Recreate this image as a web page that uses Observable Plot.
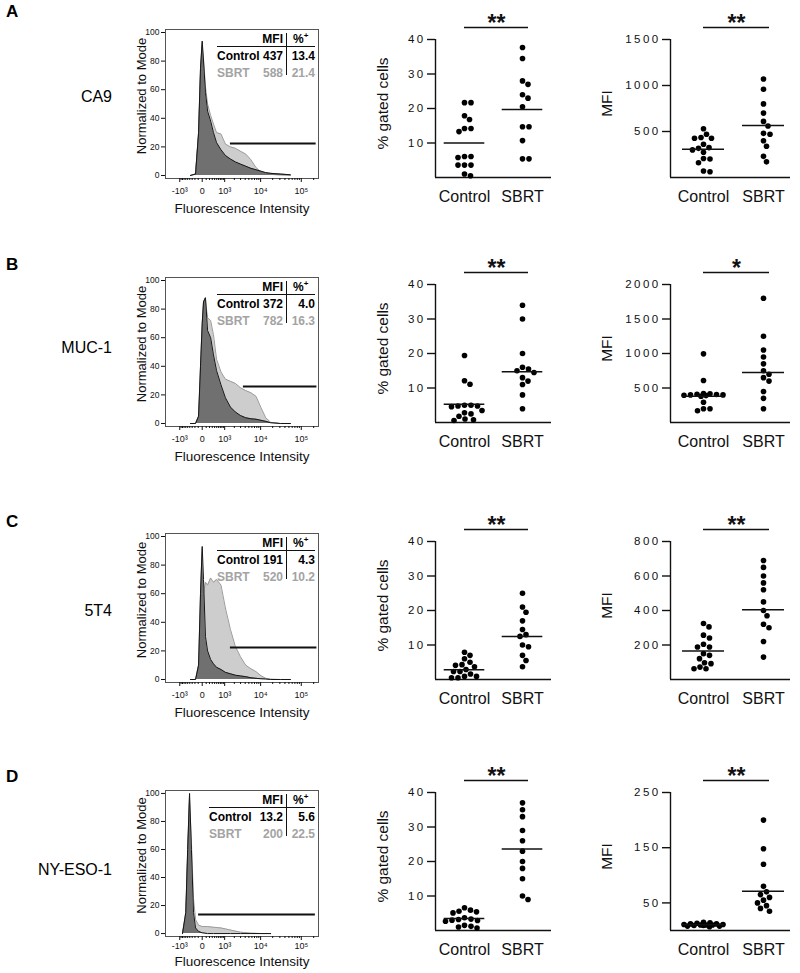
<!DOCTYPE html>
<html><head><meta charset="utf-8">
<script src="https://cdn.jsdelivr.net/npm/d3@7"></script>
<script src="https://cdn.jsdelivr.net/npm/@observablehq/plot@0.6"></script>
<style>
body{margin:0;background:#fff;font-family:"Liberation Sans",Arial,sans-serif;}
#fig{position:relative;width:800px;height:973px;overflow:hidden;background:#fff}
.letter{position:absolute;left:6px;font-weight:bold;font-size:17px;line-height:17px}
.name{position:absolute;left:0;width:112px;text-align:right;font-size:16px;line-height:16px}
.tt{position:absolute;font-weight:bold;font-size:12px;line-height:12px;white-space:nowrap}
.gray{color:#a3a3a3}
.hl{position:absolute;height:1.6px;background:#111}
.vl{position:absolute;width:1.8px;background:#111}
.dp g[aria-label="y-axis tick label"] text{letter-spacing:2.4px}
svg{position:absolute;overflow:visible}
</style></head><body><div id="fig"></div>
<script>
// ---------- data ----------
const rowLetters = ["A", "B", "C", "D"];
const markers = ["CA9", "MUC-1", "5T4", "NY-ESO-1"];
const groups = ["Control", "SBRT"];

// flow histograms (fluorescence intensity vs % of mode)
const histTickValues = [-1000, 0, 1000, 10000, 100000];
const histTickLabels = ["-10³", "0", "10³", "10⁴", "10⁵"];
const histMinorTicks = [-900, -800, -700, -600, -500, -400, -300, -200, -100, 100, 200, 300, 400, 500, 600, 700, 800, 900,
  2000, 3000, 4000, 5000, 6000, 7000, 8000, 9000, 20000, 30000, 40000, 50000, 60000, 70000, 80000, 90000, 200000];
const histYTicks = [0, 20, 40, 60, 80, 100];
const histX = [-370, -180, -90, -40, 0, 30, 80, 140, 240, 350, 490, 740, 1060, 1530, 2150, 2970, 4130, 5650, 7650, 10240, 13450, 17800, 30800, 54500];
const histXD = [-800, -600, -500, -410, -330, -250, -180, -90, 0, 140, 350, 740, 1530, 2970, 5650, 10240, 17800];

const histControlA = [0, 1, 30, 75, 94, 80, 58, 45, 38, 30, 23, 18, 14, 11.5, 9.5, 8, 6.5, 5, 4, 3, 2, 1.5, 1, 0.5];
const histSbrtA    = [0, 1, 28, 70, 90, 82, 62, 50, 42, 36, 30, 29, 22, 20, 19, 17, 15, 11, 5.5, 2.6, 1.4, 0.8, 0.3, 0];
const histControlB = [0, 0, 5, 40, 70, 85, 88, 65, 60, 48, 37, 27, 18, 11.5, 8, 5.6, 4, 3.3, 3, 2.2, 1.5, 0.5, 0, 0];
const histSbrtB    = [0, 0, 4, 30, 60, 78, 86, 74, 72, 62, 45, 36, 31, 29.5, 28, 25, 23, 21.5, 19, 11, 4, 0.8, 0, 0];
const histControlC = [0, 0, 10, 60, 93, 70, 30, 20, 14, 11, 8.5, 7, 5, 4, 3, 2.5, 2, 1.2, 0.8, 0.5, 0.3, 0, 0, 0];
const histSbrtC    = [0, 0, 3, 20, 45, 60, 68, 66, 71, 68, 70, 66, 50, 35, 23, 16, 10, 7.5, 5.5, 2.6, 0.8, 0.2, 0, 0];
const histControlD = [0, 15, 60, 100, 60, 15, 4, 1.5, 0.5, 0, 0, 0, 0, 0, 0, 0, 0];
const histSbrtD    = [0, 12, 55, 95, 65, 25, 10, 6, 5, 5, 4.5, 4, 2.5, 1, 0.3, 0, 0];

const gateLevel = [22.4, 25.9, 22.4, 13.6];
const gateFrom = [1530, 3580, 1530, -90];
const gateTo = [230000, 240000, 240000, 220000];

const tableMfiControl = ["437", "372", "191", "13.2"];
const tableMfiSbrt = ["588", "782", "520", "200"];
const tablePctControl = ["13.4", "4.0", "4.3", "5.6"];
const tablePctSbrt = ["21.4", "16.3", "10.2", "22.5"];

// dot plots: % gated cells
const pctYMax = [40, 40, 40, 40];
const pctYTicks = [10, 20, 30, 40];
const pctCtrlA = [21.7, 21.7, 17.9, 16.8, 14.2, 14.2, 13.3, 6.1, 6.1, 5.8, 3.6, 3.6, 3.6, 1.0, 0.5];
const pctSbrtA = [37.7, 34.5, 28, 27, 24, 23, 20.5, 14.7, 14.7, 10.7, 5.4, 5.4];
const pctCtrlB = [19.4, 12.1, 11.1, 5, 5, 4.8, 4.8, 4.6, 3.5, 2.8, 2.5, 1.8, 1.0, 0.6, 0.8];
const pctSbrtB = [34, 30, 20, 16, 15.5, 15, 14.5, 13, 12, 11, 8, 4];
const pctCtrlC = [7.9, 7.0, 6.0, 5.0, 4.3, 4.1, 3.7, 2.9, 2.3, 2.3, 1.6, 0.9, 0.9, 0.5, 0.5];
const pctSbrtC = [25, 21, 19.5, 17, 14.5, 13, 12.5, 10, 9.5, 7, 5.5, 3.7];
const pctCtrlD = [6.6, 5.9, 5.6, 5.4, 5.1, 3.7, 3.3, 3.2, 3.0, 2.9, 2.7, 1.5, 1.2, 1.0, 0.7];
const pctSbrtD = [37, 35, 33, 29, 26, 23, 20, 18, 15, 10, 9];
const pctMeans = [[10.0, 19.7], [5.3, 14.7], [2.8, 12.5], [3.5, 23.6]];
const pctSig = ["**", "**", "**", "**"];

// dot plots: MFI
const mfiYMax = [1500, 2000, 800, 250];
const mfiYTicks = [[500, 1000, 1500], [500, 1000, 1500, 2000], [200, 400, 600, 800], [50, 150, 250]];
const mfiCtrlA = [530, 470, 434, 427, 427, 361, 325, 317, 300, 274, 206, 201, 161, 70, 62];
const mfiSbrtA = [1070, 960, 800, 700, 610, 560, 480, 470, 400, 340, 230, 170];
const mfiCtrlB = [995, 609, 420, 415, 410, 405, 400, 400, 395, 390, 380, 294, 200, 170, 200];
const mfiSbrtB = [1800, 1250, 1050, 950, 850, 750, 700, 650, 600, 450, 350, 200];
const mfiCtrlC = [325, 305, 257, 241, 204, 188, 188, 150, 140, 121, 97, 92, 72, 62, 62];
const mfiSbrtC = [690, 650, 600, 560, 520, 450, 400, 370, 320, 300, 220, 130];
const mfiCtrlD = [15, 14, 13, 12, 12, 11, 11, 10, 10, 10, 9, 9, 8, 8, 7];
const mfiSbrtD = [200, 148, 120, 80, 70, 65, 60, 55, 50, 45, 40, 35];
const mfiMeans = [[306, 565], [380, 725], [165, 405], [10.6, 71]];
const mfiSig = ["**", "*", "**", "**"];

// ---------- layout ----------
const FONT = '"Liberation Sans", Arial, sans-serif';
const letterTop = [3, 256, 513, 768];
const nameMid = [97, 348, 611, 870];
const histFrameTop = [29, 277, 533, 790];
const histFrameH = [149, 149, 149, 146];
const histTitleDy = [30, 30, 30, 25];
const histTickPad = [5, 5, 5, 2];
const dotFrameTop = [39, 284, 541, 792];
const tableLeft = [217, 217, 217, 209];

const fig = document.getElementById("fig");
function place(el, left, top) { el.style.left = left + "px"; el.style.top = top + "px"; fig.appendChild(el); return el; }
function placeRight(el, right, top) { el.style.right = (800 - right) + "px"; el.style.top = top + "px"; fig.appendChild(el); return el; }
function div(cls, html) { const d = document.createElement("div"); d.className = cls; d.innerHTML = html; return d; }

const histCtrl = [histControlA, histControlB, histControlC, histControlD];
const histSbrt = [histSbrtA, histSbrtB, histSbrtC, histSbrtD];
const pctCtrlAll = [pctCtrlA, pctCtrlB, pctCtrlC, pctCtrlD];
const pctSbrtAll = [pctSbrtA, pctSbrtB, pctSbrtC, pctSbrtD];
const mfiCtrlAll = [mfiCtrlA, mfiCtrlB, mfiCtrlC, mfiCtrlD];
const mfiSbrtAll = [mfiSbrtA, mfiSbrtB, mfiSbrtC, mfiSbrtD];

function histogram(r) {
  const xs = r === 3 ? histXD : histX;
  const ctrl = xs.map((x, i) => ({x, y: histCtrl[r][i]}));
  const sbrt = xs.map((x, i) => ({x, y: histSbrt[r][i]}));
  return Plot.plot({
    width: 200, height: 10 + histFrameH[r] + 38, marginLeft: 45, marginRight: 2, marginTop: 10, marginBottom: 38,
    style: {fontFamily: FONT, color: "#111", background: "transparent", overflow: "visible"},
    x: {type: "symlog", constant: 400, domain: [-2700, 262144]},
    y: {domain: [-2.1, 102.1]},
    marks: [
      Plot.areaY(sbrt, {x: "x", y: "y", fill: "#cdcdcd"}),
      Plot.lineY(sbrt, {x: "x", y: "y", stroke: "#9b9b9b", strokeWidth: 1}),
      Plot.areaY(ctrl, {x: "x", y: "y", fill: "#707070"}),
      Plot.lineY(ctrl, {x: "x", y: "y", stroke: "#151515", strokeWidth: 1}),
      Plot.ruleY([gateLevel[r]], {x1: gateFrom[r], x2: gateTo[r], stroke: "#111", strokeWidth: 2}),
      Plot.frame({stroke: "#555", strokeWidth: 1}),
      Plot.axisY(histYTicks, {tickSize: 4, tickPadding: 2, fontSize: 8.5, label: null}),
      Plot.axisX(histTickValues, {tickSize: 4, tickPadding: histTickPad[r], fontSize: 9, label: null,
        tickFormat: d => histTickLabels[histTickValues.indexOf(d)]}),
      Plot.axisX(histMinorTicks, {tickSize: 2, text: null, label: null}),
      Plot.text(["Normalized to Mode"], {frameAnchor: "left", textAnchor: "middle", dx: -24, dy: -8, rotate: -90, fontSize: 13}),
      Plot.text(["Fluorescence Intensity"], {frameAnchor: "bottom", textAnchor: "middle", dy: histTitleDy[r], lineAnchor: "middle", fontSize: 13.5})
    ]
  });
}

// beeswarm layout (pixel space), overlapping only when crowded
function swarm(vals, yMax, h, r, ppu, maxW) {
  const pts = [];
  const idx = d3.range(vals.length).sort((a, b) => vals[b] - vals[a]);
  const out = new Array(vals.length);
  const minD = 2 * r + 0.6;
  for (const i of idx) {
    const py = h * (1 - vals[i] / yMax);
    let chosen = null, bestD = -1, bestX = 0;
    for (let k = 0; k < 1000; k++) {
      const cx = (k % 2 ? 1 : -1) * Math.ceil(k / 2) * 0.5;
      if (Math.abs(cx) > maxW) break;
      const md = pts.length ? d3.min(pts, p => Math.hypot(p[0] - cx, p[1] - py)) : Infinity;
      if (md >= minD) { chosen = cx; break; }
      if (md > bestD + 0.4) { bestD = md; bestX = cx; }
    }
    if (chosen === null) chosen = bestX;
    pts.push([chosen, py]);
    out[i] = chosen / ppu;
  }
  return out;
}

function dotPlot(ctrlVals, sbrtVals, means, yMax, yTicks, yLabel, sig, cfg) {
  const H = 138, R = 2.8;
  const plotW = (cfg.x1 - cfg.x0) * cfg.ppu;
  const data = [];
  [ctrlVals, sbrtVals].forEach((vals, g) => {
    const offs = swarm(vals, yMax, H, R, cfg.ppu, 22);
    vals.forEach((v, i) => data.push({g, v, x: g + offs[i]}));
  });
  return Plot.plot({
    className: "dp",
    width: cfg.ml + plotW + 8, height: 39 + H + 32,
    marginLeft: cfg.ml, marginRight: 8, marginTop: 39, marginBottom: 32,
    style: {fontFamily: FONT, color: "#111", background: "transparent", overflow: "visible"},
    x: {domain: [cfg.x0, cfg.x1]},
    y: {domain: [0, yMax]},
    marks: [
      Plot.ruleX([cfg.x0], {y1: 0, y2: yMax, stroke: "#111", strokeWidth: 1.4}),
      Plot.ruleY([0], {stroke: "#111", strokeWidth: 1.4}),
      Plot.axisY(yTicks, {tickSize: 8, tickPadding: 2, fontSize: 11.5, label: null, tickFormat: d => String(d), strokeWidth: 1.4}),
      Plot.axisX([0, 1], {tickSize: 0, tickPadding: 13, fontSize: 16, label: null, tickFormat: d => groups[d]}),
      Plot.text([yLabel], {frameAnchor: "left", textAnchor: "middle", dx: cfg.labelDx, dy: -5, rotate: -90, fontSize: 15.5}),
      Plot.dot(data, {x: "x", y: "v", r: R, fill: "#000"}),
      Plot.ruleY(means, {y: d => d, x1: (d, i) => i - 0.35, x2: (d, i) => i + 0.35, stroke: "#111", strokeWidth: 1.5}),
      Plot.ruleY([yMax], {x1: 0, x2: 1, insetRight: -6, dy: -12, stroke: "#111", strokeWidth: 1.4}),
      Plot.text([sig], {x: 0.55, y: yMax, dy: -9, lineAnchor: "bottom", fontSize: 23, fontWeight: "bold"})
    ]
  });
}

for (let r = 0; r < 4; r++) {
  place(div("letter", rowLetters[r]), 6, letterTop[r]);
  place(div("name", markers[r]), 0, nameMid[r] - 8);

  place(histogram(r), 120, histFrameTop[r] - 10);

  // MFI / % table inside histogram
  const t0 = histFrameTop[r];
  const tl = tableLeft[r];
  placeRight(div("tt", "MFI"), 283, t0 + 4);
  place(div("tt", '%<sup style="font-size:8px;vertical-align:5px;line-height:0">+</sup>'), 293, t0 + 4);
  const hl = div("hl", ""); hl.style.width = (315 - tl) + "px"; place(hl, tl, t0 + 16.5);
  const vl = div("vl", ""); vl.style.height = "42px"; place(vl, 285.5, t0 + 4);
  place(div("tt", "Control"), tl, t0 + 21);
  place(div("tt gray", "SBRT"), tl, t0 + 38);
  placeRight(div("tt", tableMfiControl[r]), 283, t0 + 21);
  placeRight(div("tt gray", tableMfiSbrt[r]), 283, t0 + 38);
  placeRight(div("tt", tablePctControl[r]), 315, t0 + 21);
  placeRight(div("tt gray", tablePctSbrt[r]), 315, t0 + 38);

  place(dotPlot(pctCtrlAll[r], pctSbrtAll[r], pctMeans[r], pctYMax[r], pctYTicks, "% gated cells", pctSig[r],
    {x0: -0.5, x1: 1.5, ppu: 58, ml: 65, labelDx: -52}), 370, dotFrameTop[r] - 39);
  place(dotPlot(mfiCtrlAll[r], mfiSbrtAll[r], mfiMeans[r], mfiYMax[r], mfiYTicks[r], "MFI", mfiSig[r],
    {x0: -0.55, x1: 1.45, ppu: 60, ml: 70, labelDx: -63}), 600, dotFrameTop[r] - 39);
}
</script></body></html>
